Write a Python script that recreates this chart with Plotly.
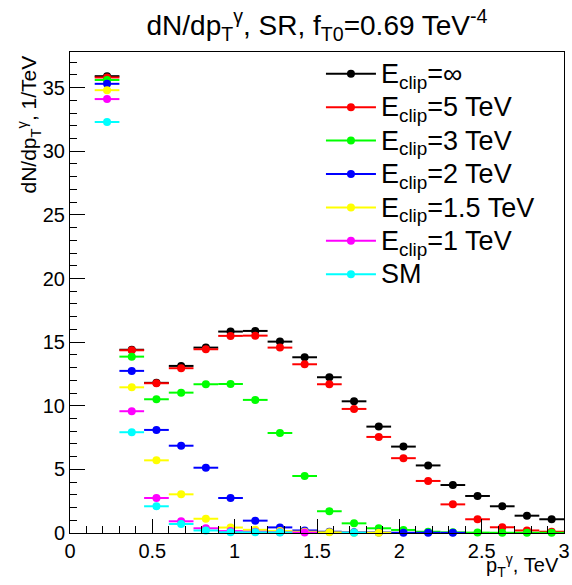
import plotly.graph_objects as go

# bin centers (TeV), bin width 0.15 TeV
bin_centers = [0.225, 0.375, 0.525, 0.675, 0.825, 0.975, 1.125, 1.275, 1.425, 1.575,
               1.725, 1.875, 2.025, 2.175, 2.325, 2.475, 2.625, 2.775, 2.925]
half_width = 0.075

e_inf = [35.9, 14.4, 11.8, 13.13, 14.57, 15.83, 15.88, 15.04, 13.81, 12.24,
         10.35, 8.36, 6.79, 5.31, 3.77, 2.91, 2.10, 1.36, 1.08]
e_5 = [35.8, 14.36, 11.77, 12.95, 14.44, 15.49, 15.51, 14.57, 13.26, 11.69,
       9.75, 7.55, 5.88, 4.09, 2.25, 1.08, 0.45, 0.20, 0.10]
e_3 = [35.6, 13.86, 10.51, 11.03, 11.69, 11.71, 10.46, 7.86, 4.48, 1.71,
       0.76, 0.37, 0.24, 0.10, 0.05, 0.03, 0.02, 0.02, 0.02]
e_2 = [35.3, 12.74, 8.10, 6.86, 5.13, 2.75, 0.97, 0.44, 0.20, 0.10,
       0.05, 0.04, 0.02, 0.02, 0.01, None, None, None, None]
e_15 = [34.8, 11.45, 5.71, 3.04, 1.12, 0.43, 0.25, 0.15, 0.10, 0.05,
        0.02, 0.02, None, None, None, None, None, None, None]
e_1 = [34.1, 9.57, 2.75, 0.92, 0.37, 0.15, 0.10, 0.05, 0.03, None,
       None, None, None, None, None, None, None, None, None]
sm = [32.3, 7.92, 2.10, 0.71, 0.20, 0.06, 0.05, 0.04, None, None,
      0.02, None, None, None, None, None, None, None, None]

labels = ["E<sub>clip</sub>=∞", "E<sub>clip</sub>=5 TeV", "E<sub>clip</sub>=3 TeV",
          "E<sub>clip</sub>=2 TeV", "E<sub>clip</sub>=1.5 TeV", "E<sub>clip</sub>=1 TeV", "SM"]
values = [e_inf, e_5, e_3, e_2, e_15, e_1, sm]
colors = ["#000000", "#ff0000", "#00ff00", "#0000ff", "#ffff00", "#ff00ff", "#00ffff"]

FONT = "Liberation Sans, Arial, sans-serif"
# body margin is removed by the post script, so page == figure coordinates
W, H = 572, 585
ML, MR, MT, MB = 70, 2, 52, 52
PW, PH = W - ML - MR, H - MT - MB


def px(page_x):
    return (page_x - ML) / PW


def py(page_y):
    return (H - MB - page_y) / PH


fig = go.Figure()
for name, vals, col in zip(labels, values, colors):
    xs = [x for x, v in zip(bin_centers, vals) if v is not None]
    ys = [v for v in vals if v is not None]
    fig.add_trace(go.Scatter(
        x=xs, y=ys, mode="markers", name=name, showlegend=False, legendgroup=name,
        marker=dict(color=col, size=8),
        error_x=dict(type="constant", value=half_width, color=col, thickness=2, width=0),
        cliponaxis=False,
    ))
for name, vals, col in zip(labels, values, colors):
    fig.add_trace(go.Scatter(
        x=[None], y=[None], mode="lines+markers",
        name='<span style="font-size:27px">' + name + "</span>", legendgroup=name,
        line=dict(color=col, width=2), marker=dict(color=col, size=8),
    ))

fig.update_layout(
    width=W, height=H,
    margin=dict(l=ML, r=MR, t=MT, b=MB),
    paper_bgcolor="white", plot_bgcolor="white",
    font=dict(family=FONT, color="black"),
    title=dict(text="dN/dp<sub>T</sub><sup>γ</sup>, SR, f<sub>T0</sub>=0.69 TeV<sup>-4</sup>",
               x=px(320), xref="paper", xanchor="center", y=1 - 25 / H,
               yanchor="middle", font=dict(size=28, family=FONT)),
    legend=dict(x=px(324), y=py(52), xanchor="left", yanchor="top",
                bgcolor="rgba(0,0,0,0)", font=dict(size=23.4, family=FONT),
                itemwidth=50, tracegroupgap=0),
    showlegend=True,
)
fig.update_xaxes(
    range=[0, 3], showgrid=False, zeroline=False, showline=True, linecolor="black",
    linewidth=1, mirror=True, ticks="inside", ticklen=14, tickwidth=1, tickcolor="black",
    dtick=0.5, tick0=0, tickfont=dict(size=20, family=FONT), ticklabeloverflow="allow",
    minor=dict(dtick=0.1, ticks="inside", ticklen=7, tickcolor="black", showgrid=False),
)
fig.update_yaxes(
    range=[0, 37.8], showgrid=False, zeroline=False, showline=True, linecolor="black",
    linewidth=1, mirror=True, ticks="inside", ticklen=15, tickwidth=1, tickcolor="black",
    dtick=5, tick0=0, tickfont=dict(size=20, family=FONT),
    minor=dict(dtick=1, ticks="inside", ticklen=7, tickcolor="black", showgrid=False),
)
fig.add_annotation(text="dN/dp<sub>T</sub><sup>γ</sup>, 1/TeV", textangle=-90,
                   xref="paper", yref="paper", x=px(29), y=py(53),
                   xanchor="center", yanchor="top", showarrow=False,
                   font=dict(size=21, family=FONT))
fig.add_annotation(text="p<sub>T</sub><sup>γ</sup>, TeV",
                   xref="paper", yref="paper", x=px(567), y=py(565),
                   xanchor="right", yanchor="middle", showarrow=False,
                   font=dict(size=20, family=FONT))
fig.write_html("out.html", config={"displayModeBar": False},
               post_script="document.body.style.margin='0';document.body.style.overflow='hidden';")
